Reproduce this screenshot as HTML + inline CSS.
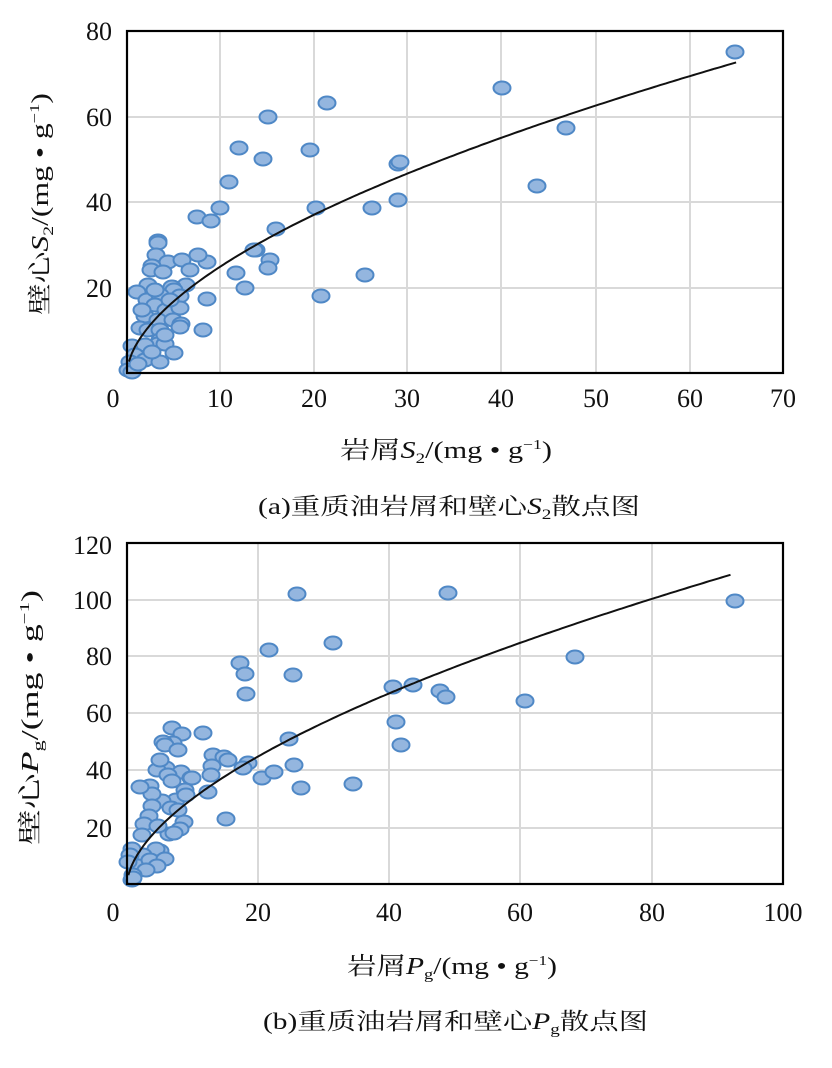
<!DOCTYPE html>
<html><head><meta charset="utf-8"><style>
html,body{margin:0;padding:0;background:#fff;}
svg text{font-family:"Liberation Serif","Noto Serif CJK SC",serif;fill:#111;}
</style></head><body>
<svg id="s" width="832" height="1063" xmlns="http://www.w3.org/2000/svg">
<g id="A"></g><g id="B"></g>
<g font-size="26" text-anchor="end">
<text x="112" y="40">80</text><text x="112" y="126">60</text><text x="112" y="211">40</text><text x="112" y="297">20</text>
</g>
<g font-size="26" text-anchor="middle">
<text x="113" y="407">0</text><text x="220" y="407">10</text><text x="314" y="407">20</text><text x="407" y="407">30</text><text x="501" y="407">40</text><text x="596" y="407">50</text><text x="690" y="407">60</text><text x="783" y="407">70</text>
</g>
<text x="340" y="458" font-size="24" textLength="212" lengthAdjust="spacingAndGlyphs">岩屑<tspan font-style="italic">S</tspan><tspan font-size="15" dy="5">2</tspan><tspan dy="-5">/(mg • g</tspan><tspan font-size="14" dy="-9">−1</tspan><tspan dy="9">)</tspan></text>
<text x="258" y="514" font-size="23" textLength="382" lengthAdjust="spacingAndGlyphs">(a)重质油岩屑和壁心<tspan font-style="italic">S</tspan><tspan font-size="15" dy="5">2</tspan><tspan dy="-5">散点图</tspan></text>
<text transform="translate(48,315) rotate(-90)" font-size="24" textLength="222" lengthAdjust="spacingAndGlyphs">壁心<tspan font-style="italic">S</tspan><tspan font-size="15" dy="5">2</tspan><tspan dy="-5">/(mg • g</tspan><tspan font-size="14" dy="-9">−1</tspan><tspan dy="9">)</tspan></text>
<g font-size="26" text-anchor="end">
<text x="112" y="554">120</text><text x="112" y="609">100</text><text x="112" y="665">80</text><text x="112" y="722">60</text><text x="112" y="779">40</text><text x="112" y="837">20</text>
</g>
<g font-size="26" text-anchor="middle">
<text x="113" y="921">0</text><text x="258" y="921">20</text><text x="389" y="921">40</text><text x="520" y="921">60</text><text x="652" y="921">80</text><text x="783" y="921">100</text>
</g>
<text x="347" y="974" font-size="24" textLength="210" lengthAdjust="spacingAndGlyphs">岩屑<tspan font-style="italic">P</tspan><tspan font-size="15" dy="5">g</tspan><tspan dy="-5">/(mg • g</tspan><tspan font-size="14" dy="-9">−1</tspan><tspan dy="9">)</tspan></text>
<text x="263" y="1029" font-size="23" textLength="385" lengthAdjust="spacingAndGlyphs">(b)重质油岩屑和壁心<tspan font-style="italic">P</tspan><tspan font-size="15" dy="5">g</tspan><tspan dy="-5">散点图</tspan></text>
<text transform="translate(38,845) rotate(-90)" font-size="24" textLength="255" lengthAdjust="spacingAndGlyphs">壁心<tspan font-style="italic">P</tspan><tspan font-size="15" dy="5">g</tspan><tspan dy="-5">/(mg • g</tspan><tspan font-size="14" dy="-9">−1</tspan><tspan dy="9">)</tspan></text>
</svg>
<script>
var NS="http://www.w3.org/2000/svg";
function el(g,t,a){var e=document.createElementNS(NS,t);for(var k in a)e.setAttribute(k,a[k]);g.appendChild(e);return e;}
function chart(id,L,R,T,B,xs,ys,pts,fn,x0,x1,xmax,ymax){
 var g=document.getElementById(id);
 xs.forEach(function(x){el(g,'line',{x1:x,x2:x,y1:T,y2:B,stroke:'#d9d9d9','stroke-width':2});});
 ys.forEach(function(y){el(g,'line',{x1:L,x2:R,y1:y,y2:y,stroke:'#d9d9d9','stroke-width':2});});
 pts.forEach(function(p){el(g,'ellipse',{cx:p[0],cy:p[1],rx:8.5,ry:6.5,fill:'#94b6df',stroke:'#4f88c6','stroke-width':2});});
 var d='';for(var i=0;i<=200;i++){var x=x0+(x1-x0)*i/200;var px=L+(R-L)*x/xmax;var py=B-(B-T)*fn(x)/ymax;d+=(i?'L':'M')+px.toFixed(1)+' '+py.toFixed(1);}
 el(g,'path',{d:d,fill:'none',stroke:'#111','stroke-width':2});
 el(g,'rect',{x:L,y:T,width:R-L,height:B-T,fill:'none',stroke:'#000','stroke-width':2.2});
}
var A=[[735,52],[502,88],[566,128],[537,186],[327,103],[268,117],[239,148],[263,159],[310,150],[229,182],[220,208],[316,208],[372,208],[398,164],[400,162],[398,200],[197,217],[211,221],[276,229],[256,250],[254,250],[270,260],[268,268],[236,273],[245,288],[321,296],[365,275],[158,241],[158,243],[156,255],[168,262],[182,260],[207,262],[198,255],[152,266],[151,270],[190,270],[163,272],[186,285],[148,285],[172,287],[174,290],[207,299],[137,292],[147,300],[160,295],[180,296],[155,305],[166,310],[180,308],[145,316],[158,320],[173,320],[181,324],[140,328],[148,330],[160,330],[180,327],[203,330],[160,340],[158,344],[132,346],[145,345],[165,344],[174,353],[150,356],[135,355],[145,360],[160,362],[130,362],[128,370],[132,372],[138,364],[152,352],[142,310],[170,300],[155,290],[165,335]];
chart('A',127,783,31,373,[220,314,407,501,596,690],[117,202,288],A,function(x){return 6.7*Math.pow(x,0.571);},0.2,65,70,80);
var Bp=[[735,601],[448,593],[297,594],[333,643],[269,650],[575,657],[240,663],[245,674],[293,675],[246,694],[393,687],[413,685],[440,691],[446,697],[525,701],[396,722],[401,745],[203,733],[172,728],[182,734],[173,743],[163,742],[289,739],[213,755],[224,757],[228,760],[248,763],[243,768],[212,766],[211,775],[262,778],[274,772],[294,765],[301,788],[353,784],[208,792],[226,819],[166,768],[181,772],[191,778],[157,770],[168,775],[185,790],[176,800],[162,801],[150,786],[152,794],[140,787],[152,806],[171,808],[184,822],[180,829],[169,834],[174,833],[149,816],[144,824],[142,835],[158,826],[160,851],[156,849],[143,855],[138,866],[150,860],[165,859],[157,866],[146,870],[132,849],[130,855],[128,862],[133,875],[132,880],[133,878],[172,781],[186,795],[178,810],[192,778],[160,760],[165,745],[178,750]];
chart('B',127,783,543,884,[258,389,520,652],[600,656,713,770,828],Bp,function(x){return 7.9*Math.pow(x,0.58);},0.2,92,100,120);
</script>
</body></html>
